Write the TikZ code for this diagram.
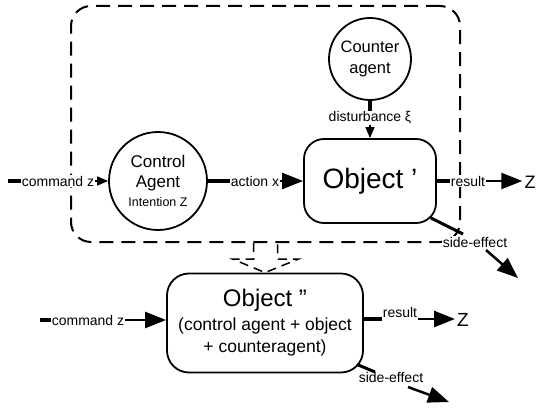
\documentclass[tikz,border=0pt]{standalone}
\usepackage{fontspec}
\setmainfont{Liberation Sans}
\usetikzlibrary{arrows.meta,calc}
\tikzset{
  agent/.style={circle, draw, line width=1.8pt, inner sep=0pt, align=center},
  objbox/.style={draw, line width=1.8pt, inner sep=0pt, align=center},
  lbl/.style={fill=white, inner sep=1pt, font=\fontsize{14}{16}\selectfont},
  stub/.style={line width=3.5pt},
  thinarr/.style={line width=1.6pt, -{Triangle[length=11pt,width=9pt]}},
  bigarr/.style={line width=2.5pt, -{Triangle[length=21pt,width=16pt]}},
  grpframe/.style={draw, line width=2pt, dash pattern=on 14pt off 8pt, rounded corners=20pt},
  hollow/.style={draw, line width=1.5pt, dash pattern=on 9pt off 6pt},
  zlbl/.style={inner sep=2pt, font=\fontsize{18}{20}\selectfont},
}
\begin{document}
\begin{tikzpicture}[x=1pt,y=-1pt]
\useasboundingbox (0,0) rectangle (538,412);
% dashed group frame
\node[grpframe, minimum width=389pt, minimum height=236pt] (grp) at (265.5,124) {};
% nodes
\node[agent, minimum size=98pt, font=\fontsize{17}{20}\selectfont] (ctrl) at (158,181)
  {Control\\Agent\\[-1.5pt]{\fontsize{12.5}{15}\selectfont Intention Z}};
\node[agent, minimum size=82pt, font=\fontsize{16.5}{21}\selectfont] (cnt) at (370,59) {Counter\\agent};
\node[objbox, rounded corners=20pt, minimum width=132pt, minimum height=84pt, font=\fontsize{28}{32}\selectfont, fill=white] (obj1) at (370,181) {Object '};
\node[objbox, rounded corners=22pt, minimum width=196pt, minimum height=99pt, fill=white, font=\fontsize{17.5}{22}\selectfont] (obj2) at (265,323)
  {{\fontsize{24}{27}\selectfont Object ''}\\[2pt](control agent + object\\+ counteragent)};
% upper command z
\coordinate (c1s) at (8,181);
\node[lbl] (l1) at (58,181) {command z};
\draw[stub] (c1s) -- (l1.west);
\draw[thinarr] (l1.east) -- (ctrl.west);
% action x
\node[lbl] (l2) at (255,181) {action x};
\draw[stub] (ctrl.east) -- (l2.west);
\draw[bigarr] (l2.east) -- (obj1.west);
% disturbance
\node[lbl] (l3) at (370,118) {disturbance ξ};
\draw[stub] (cnt.south) -- (l3.north);
\draw[thinarr] (l3.south) -- (obj1.north);
% upper result
\node[lbl] (l4) at (468,181) {result};
\node[zlbl] (z1) at (530,182) {Z};
\draw[stub] (obj1.east) -- (l4.west);
\draw[bigarr] (l4.east) -- (l4.east -| z1.west);
% upper side-effect
\coordinate (se1s) at ($(obj1.south east)+(-6,-6)$);
\coordinate (se1e) at (463,234);
\node[lbl] (l5) at (475,242) {side-effect};
\draw[line width=3pt] (se1s) -- (se1e);
\coordinate (se1a) at (486,250);
\coordinate (se1b) at (518,278);
\draw[bigarr] (se1a) -- (se1b);
% hollow dashed arrow (group -> object'')
\draw[hollow, line join=miter] ($(grp.south)+(-12,0)$) -- ++(0,16) -- ++(-21,0) -- (obj2.north)
  -- ($(grp.south)+(33,16)$) -- ++(-21,0) -- ++(0,-16);
% lower command z
\coordinate (c2s) at (40,320);
\node[lbl] (l6) at (88,320) {command z};
\draw[stub] (c2s) -- (l6.west);
\draw[bigarr] (l6.east) -- (l6.east -| obj2.west);
% lower result
\coordinate (r2s) at (obj2.east |- 0,319);
\node[lbl] (l7) at (400,312) {result};
\node[zlbl, font=\fontsize{19}{21}\selectfont] (z2) at (463,320) {Z};
\draw[stub] (r2s) -- (r2s -| l7.west);
\draw[bigarr] (l7.east |- r2s) -- (r2s -| z2.west);
% lower side-effect
\coordinate (se2s) at ($(obj2.south east)+(-7,-9)$);
\coordinate (se2e) at (375,372);
\node[lbl] (l8) at (391,377) {side-effect};
\draw[line width=3pt] (se2s) -- (se2e);
\coordinate (se2a) at (408,387);
\coordinate (se2b) at (449,402);
\draw[bigarr] (se2a) -- (se2b);
\end{tikzpicture}
\end{document}
